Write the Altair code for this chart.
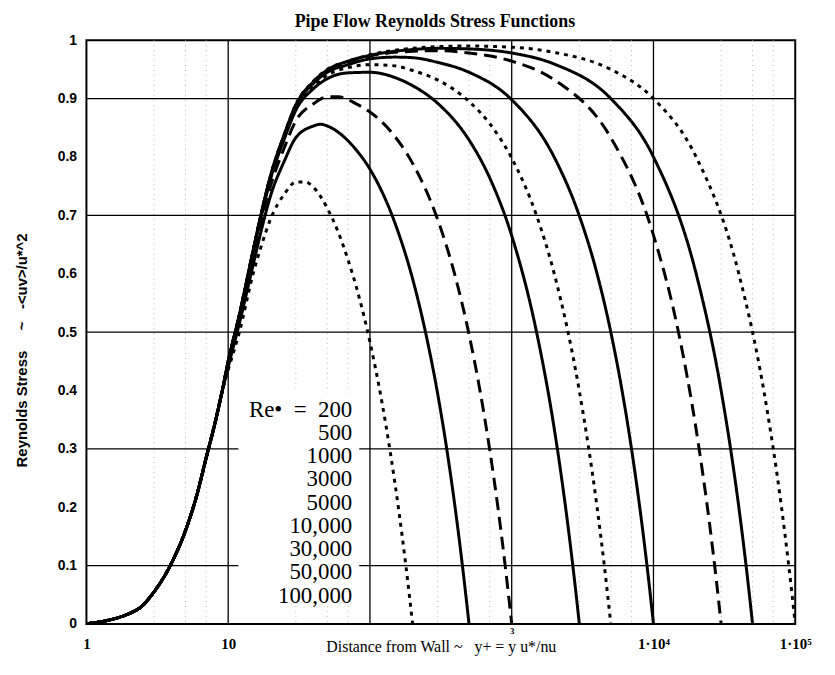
import altair as alt
import pandas as pd

# ---------------- data ----------------
# shared near-wall part of every curve
WALL_YPLUS = [1, 2.3, 3, 4, 5, 6, 7, 8, 9]
WALL_STRESS = [0.0, 0.025, 0.055, 0.105, 0.16, 0.22, 0.285, 0.34, 0.395]

RE_LABELS = ["200", "500", "1000", "3000", "5000", "10,000", "30,000", "50,000", "100,000"]
RE_STYLES = ["dotted", "solid", "dashed", "solid", "dotted", "solid", "dashed", "solid", "dotted"]

YP_200 = [10, 12, 15, 17, 20, 25, 30, 35, 40, 50, 60, 70, 80, 100, 120, 140, 160, 180, 200]
ST_200 = [0.435, 0.50, 0.60, 0.645, 0.695, 0.737, 0.757, 0.757, 0.748, 0.712, 0.670, 0.624, 0.578,
          0.483, 0.387, 0.290, 0.193, 0.096, 0.0]

YP_500 = [10, 12, 15, 17, 20, 25, 30, 40, 45, 50, 60, 80, 100, 150, 200, 250, 300, 350, 400, 450, 500]
ST_500 = [0.44, 0.515, 0.615, 0.671, 0.735, 0.794, 0.833, 0.853, 0.856, 0.853, 0.842, 0.812, 0.779,
          0.687, 0.591, 0.493, 0.395, 0.296, 0.197, 0.098, 0.0]

YP_1000 = [10, 12, 15, 17, 20, 25, 30, 40, 50, 60, 80, 100, 150, 200, 300, 400, 500, 600, 700, 800, 900, 1000]
ST_1000 = [0.445, 0.522, 0.628, 0.686, 0.752, 0.817, 0.862, 0.891, 0.903, 0.903, 0.891, 0.877, 0.835,
           0.789, 0.693, 0.595, 0.496, 0.397, 0.298, 0.199, 0.099, 0.0]

YP_3000 = [10, 12, 15, 17, 20, 25, 30, 40, 50, 70, 100, 150, 200, 300, 500, 700, 1000, 1500, 2000, 2500, 2800, 3000]
ST_3000 = [0.448, 0.527, 0.636, 0.695, 0.764, 0.832, 0.880, 0.917, 0.934, 0.944, 0.945, 0.936, 0.922,
           0.892, 0.829, 0.764, 0.665, 0.499, 0.333, 0.166, 0.066, 0.0]

YP_5000 = [10, 12, 15, 17, 20, 25, 30, 40, 50, 70, 100, 150, 200, 300, 500, 700, 1000, 1500, 2000, 3000, 4000, 4500, 5000]
ST_5000 = [0.449, 0.528, 0.637, 0.697, 0.766, 0.835, 0.884, 0.922, 0.940, 0.953, 0.958, 0.956, 0.948,
           0.932, 0.895, 0.857, 0.798, 0.699, 0.599, 0.399, 0.200, 0.100, 0.0]

YP_10000 = [10, 12, 15, 17, 20, 25, 30, 40, 50, 70, 100, 150, 200, 300, 500, 1000, 2000, 3000, 4000,
            5000, 6000, 7000, 8000, 9000, 10000]
ST_10000 = [0.449, 0.529, 0.639, 0.699, 0.768, 0.838, 0.887, 0.926, 0.945, 0.958, 0.968, 0.971, 0.970,
            0.962, 0.945, 0.898, 0.799, 0.699, 0.600, 0.500, 0.400, 0.300, 0.200, 0.100, 0.0]

YP_30000 = [10, 12, 15, 17, 20, 25, 30, 40, 50, 70, 100, 200, 300, 500, 1000, 2000, 5000, 10000,
            15000, 20000, 25000, 28000, 30000]
ST_30000 = [0.450, 0.530, 0.640, 0.700, 0.769, 0.839, 0.889, 0.929, 0.948, 0.963, 0.973, 0.981, 0.982,
            0.978, 0.964, 0.932, 0.833, 0.666, 0.500, 0.333, 0.167, 0.067, 0.0]

YP_50000 = [10, 12, 15, 17, 20, 25, 30, 40, 50, 70, 100, 200, 300, 500, 1000, 2000, 5000, 10000,
            20000, 30000, 40000, 45000, 50000]
ST_50000 = [0.450, 0.530, 0.640, 0.700, 0.770, 0.840, 0.889, 0.929, 0.949, 0.964, 0.974, 0.984, 0.986,
            0.985, 0.978, 0.959, 0.900, 0.800, 0.600, 0.400, 0.200, 0.100, 0.0]

YP_100000 = [10, 12, 15, 17, 20, 25, 30, 40, 50, 70, 100, 200, 300, 500, 1000, 2000, 5000, 10000,
             20000, 40000, 60000, 80000, 90000, 100000]
ST_100000 = [0.450, 0.530, 0.640, 0.700, 0.770, 0.840, 0.890, 0.930, 0.950, 0.964, 0.975, 0.986, 0.989,
             0.990, 0.988, 0.979, 0.950, 0.900, 0.800, 0.600, 0.400, 0.200, 0.100, 0.0]

CURVE_YPLUS = [YP_200, YP_500, YP_1000, YP_3000, YP_5000, YP_10000, YP_30000, YP_50000, YP_100000]
CURVE_STRESS = [ST_200, ST_500, ST_1000, ST_3000, ST_5000, ST_10000, ST_30000, ST_50000, ST_100000]

GRID_Y = [0.1, 0.3, 0.5, 0.7, 0.9]
GRID_X = [10, 100, 1000, 10000]
MINOR_MULT = [3, 5, 7]
DECADES = [1, 10, 100, 1000, 10000]

X_TICKS = [1, 10, 100, 1000, 10000, 100000]
Y_TICKS = [0, 0.1, 0.2, 0.3, 0.4, 0.5, 0.6, 0.7, 0.8, 0.9, 1]

NB = "\u00a0"
LEGEND_LINES = ["Re\u2022" + NB * 2 + "=" + NB * 2 + "200", "500", "1000", "3000", "5000",
                "10,000", "30,000", "50,000", "100,000"]
LEGEND_X = 75.0      # y+ of right edge of legend text
LEGEND_Y = 0.355     # stress value of first baseline
LEGEND_BOX = {"x": 11.8, "x2": 84.0, "y": 0.032, "y2": 0.396}

# ---------------- tables ----------------
rows = []
for lab, sty, yp, st in zip(RE_LABELS, RE_STYLES, CURVE_YPLUS, CURVE_STRESS):
    xs = WALL_YPLUS + yp
    ys = WALL_STRESS + st
    for j, (a, b) in enumerate(zip(xs, ys)):
        rows.append({"re": lab, "style": sty, "yplus": a, "stress": b, "order": j})
df = pd.DataFrame(rows)

minor_df = pd.DataFrame({"v": [m * d for d in DECADES for m in MINOR_MULT]})
hgrid_df = pd.DataFrame({"v": GRID_Y})
vgrid_df = pd.DataFrame({"v": GRID_X})
box_df = pd.DataFrame([LEGEND_BOX])
leg_df = pd.DataFrame({"x": [LEGEND_X], "y": [LEGEND_Y]})

xscale = alt.Scale(type="log", domain=[1, 100000], nice=False)
yscale = alt.Scale(domain=[0, 1], nice=False)

SERIF = "Liberation Serif"
SANS = "Liberation Sans"

x_label_expr = ("datum.value == 1 ? '1' : datum.value == 10 ? '10' : datum.value == 1000 ? '3' : "
                "datum.value == 10000 ? '1\u00b710\u2074' : datum.value == 100000 ? '1\u00b710\u2075' : ''")

X_TITLE = "Distance from Wall ~" + NB * 3 + "y+ = y u*/nu"
Y_TITLE = "Reynolds Stress" + NB * 5 + "~" + NB * 3 + "-<uv>/u*^2"

x_axis = alt.Axis(values=X_TICKS, labelExpr=x_label_expr, grid=False, ticks=False, tickSize=0,
                  domain=False, labelFont=SERIF,
                  labelFontSize={"condition": {"test": "datum.value == 1000", "value": 9}, "value": 15},
                  labelFontWeight="bold", labelColor="black",
                  labelPadding={"condition": {"test": "datum.value == 1000", "value": 3}, "value": 13},
                  labelFlush=False,
                  title=X_TITLE, titleFont=SERIF, titleFontSize=16,
                  titleFontWeight="normal", titleColor="black", titleY=23, titleBaseline="middle")
y_axis = alt.Axis(values=Y_TICKS, format=".1~f", grid=False, ticks=False, tickSize=0, domain=False,
                  labelFont=SANS, labelFontSize=14, labelFontWeight="bold", labelColor="black",
                  labelPadding=10, labelFlush=False,
                  title=Y_TITLE, titleFont=SANS, titleFontSize=15,
                  titleFontWeight="bold", titleColor="black", titleAngle=270, titleX=-65, titleY=312,
                  titleAlign="center", titleBaseline="middle")

X = lambda f: alt.X(f, scale=xscale, axis=x_axis)
Y = lambda f: alt.Y(f, scale=yscale, axis=y_axis)

minor = alt.Chart(minor_df).mark_rule(color="#a8a8a8", strokeWidth=0.8, strokeDash=[1, 4]).encode(
    x=X("v:Q")
)
hgrid = alt.Chart(hgrid_df).mark_rule(color="black", strokeWidth=1.3).encode(y=Y("v:Q"))
vgrid = alt.Chart(vgrid_df).mark_rule(color="black", strokeWidth=1.3).encode(x=X("v:Q"))
box = alt.Chart(box_df).mark_rect(color="white").encode(
    x=X("x:Q"), x2="x2:Q", y=Y("y:Q"), y2="y2:Q",
)
legend_text = alt.Chart(leg_df).mark_text(
    align="right", baseline="alphabetic", font=SERIF, fontSize=23, lineHeight=23.4, color="black"
).encode(
    x=X("x:Q"), y=Y("y:Q"),
    text=alt.value(LEGEND_LINES),
)
lines = alt.Chart(df).mark_line(color="black", strokeWidth=3, interpolate="monotone", clip=True).encode(
    x=X("yplus:Q"),
    y=Y("stress:Q"),
    detail="re:N",
    order="order:Q",
    strokeDash=alt.StrokeDash("style:N", scale=alt.Scale(domain=["solid", "dashed", "dotted"],
                                                         range=[[1, 0], [13, 7], [4, 5]]), legend=None),
)

chart = alt.layer(minor, hgrid, vgrid, box, legend_text, lines).properties(
    width=714, height=588,
    padding={"left": 79, "top": 30, "right": 32, "bottom": 41},
    autosize=alt.AutoSizeParams(type="none"),
    background="white",
    title=alt.TitleParams("Pipe Flow Reynolds Stress Functions", font=SERIF, fontSize=18,
                          fontWeight="bold", color="black", anchor="middle", dx=-6, offset=2),
).configure_view(stroke="black", strokeWidth=2)

chart.save("out.html", embed_options={"renderer": "svg", "actions": False})
